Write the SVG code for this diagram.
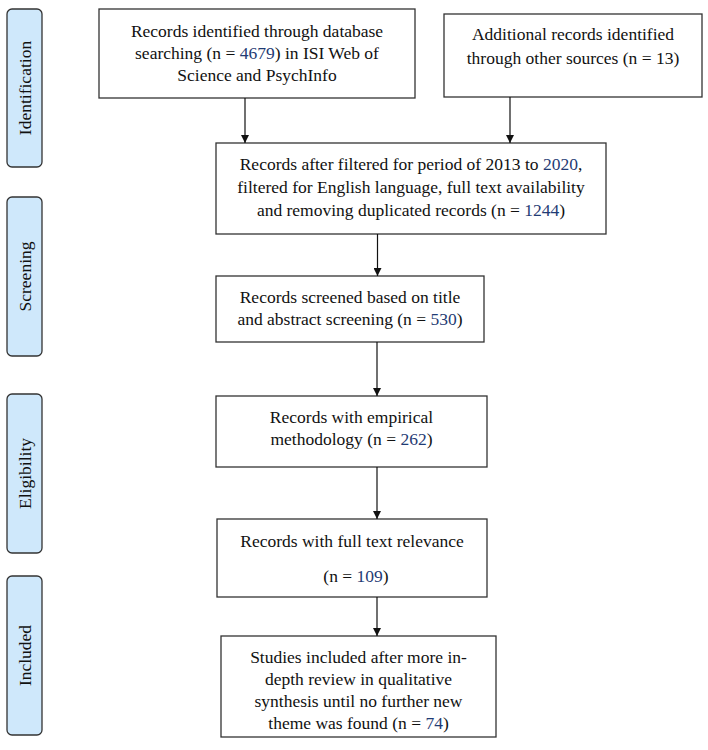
<svg xmlns="http://www.w3.org/2000/svg" width="708" height="750" viewBox="0 0 708 750">
<defs>
<style>
.box{fill:#fff;stroke:#333;stroke-width:1.3}
.side{fill:#cfe8fb;stroke:#333;stroke-width:1.3}
text{font-family:"Liberation Serif","Times New Roman",serif;font-size:17.5px;fill:#111;text-anchor:middle}
.n{fill:#1f3b74}
.conn line{stroke:#111;stroke-width:1.2}
</style>
<marker id="ah" viewBox="0 0 10 10" refX="10" refY="5" markerWidth="8" markerHeight="8" markerUnits="userSpaceOnUse" orient="auto">
<path d="M0,0 L10,5 L0,10 z" fill="#111"/>
</marker>
</defs>
<rect width="708" height="750" fill="#fff"/>

<g id="side-identification"><rect class="side" x="7" y="9" width="35" height="158" rx="5"/><text transform="translate(31,88) rotate(-90)">Identification</text></g>
<g id="side-screening"><rect class="side" x="7" y="197" width="35" height="159" rx="5"/><text transform="translate(31,276.5) rotate(-90)">Screening</text></g>
<g id="side-eligibility"><rect class="side" x="7" y="394" width="35" height="159" rx="5"/><text transform="translate(31,473.5) rotate(-90)">Eligibility</text></g>
<g id="side-included"><rect class="side" x="7" y="576" width="35" height="159" rx="5"/><text transform="translate(31,655.5) rotate(-90)">Included</text></g>

<g id="box-database"><rect class="box" x="99" y="9" width="316" height="89"/>
<text x="257" y="37">Records identified through database</text>
<text x="257" y="59">searching (n = <tspan class="n">4679</tspan>) in ISI Web of</text>
<text x="257" y="81">Science and PsychInfo</text></g>

<g id="box-additional"><rect class="box" x="444" y="14" width="258" height="83"/>
<text x="573" y="40">Additional records identified</text>
<text x="573" y="64">through other sources (n = 13)</text></g>

<g id="box-filtered"><rect class="box" x="216" y="143" width="390" height="91"/>
<text x="411" y="170">Records after filtered for period of 2013 to <tspan class="n">2020</tspan>,</text>
<text x="411" y="193">filtered for English language, full text availability</text>
<text x="411" y="216">and removing duplicated records (n = <tspan class="n">1244</tspan>)</text></g>

<g id="box-screened"><rect class="box" x="216" y="276" width="268" height="66"/>
<text x="350" y="303">Records screened based on title</text>
<text x="350" y="325">and abstract screening (n = <tspan class="n">530</tspan>)</text></g>

<g id="box-empirical"><rect class="box" x="216" y="396" width="271" height="71"/>
<text x="351.5" y="423">Records with empirical</text>
<text x="351.5" y="445">methodology (n = <tspan class="n">262</tspan>)</text></g>

<g id="box-fulltext"><rect class="box" x="217" y="519" width="270" height="78"/>
<text x="352" y="547">Records with full text relevance</text>
<text x="356" y="582">(n = <tspan class="n">109</tspan>)</text></g>

<g id="box-included"><rect class="box" x="221" y="636" width="275" height="101"/>
<text x="358.5" y="663">Studies included after more in-</text>
<text x="358.5" y="685">depth review in qualitative</text>
<text x="358.5" y="707">synthesis until no further new</text>
<text x="358.5" y="729">theme was found (n = <tspan class="n">74</tspan>)</text></g>

<g id="connectors" class="conn">
<line x1="245" y1="98" x2="245" y2="143" marker-end="url(#ah)"/>
<line x1="510" y1="97" x2="510" y2="143" marker-end="url(#ah)"/>
<line x1="377.5" y1="234" x2="377.5" y2="276" marker-end="url(#ah)"/>
<line x1="377" y1="342" x2="377" y2="396" marker-end="url(#ah)"/>
<line x1="377" y1="467" x2="377" y2="519" marker-end="url(#ah)"/>
<line x1="377" y1="597" x2="377" y2="636" marker-end="url(#ah)"/>
</g>
</svg>
